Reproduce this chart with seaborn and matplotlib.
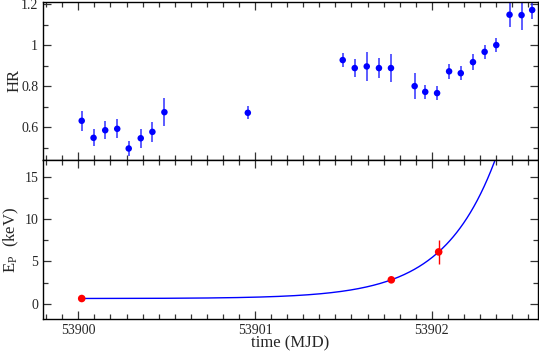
import numpy as np
import pandas as pd
import matplotlib
matplotlib.use("Agg")
import matplotlib.pyplot as plt
import seaborn as sns
from matplotlib.ticker import MultipleLocator

# hardness ratio light curve
hr_time = [53900.019, 53900.086, 53900.152, 53900.220, 53900.285, 53900.353, 53900.419, 53900.487,
           53900.959, 53901.496, 53901.564, 53901.632, 53901.701, 53901.769, 53901.903, 53901.963,
           53902.030, 53902.098, 53902.164, 53902.233, 53902.299, 53902.365, 53902.440, 53902.508,
           53902.568]
hr = [0.631, 0.548, 0.585, 0.592, 0.496, 0.546, 0.577, 0.673,
      0.670, 0.927, 0.888, 0.896, 0.888, 0.888, 0.800, 0.772,
      0.766, 0.872, 0.863, 0.917, 0.967, 1.000, 1.148, 1.146,
      1.171]
hr_err = [0.049, 0.041, 0.044, 0.047, 0.037, 0.046, 0.050, 0.068,
          0.032, 0.033, 0.044, 0.070, 0.048, 0.067, 0.062, 0.033,
          0.034, 0.035, 0.033, 0.039, 0.033, 0.036, 0.059, 0.073,
          0.045]

# peak energy
ep_time = [53900.019, 53901.771, 53902.039]
ep = [0.62, 2.83, 6.13]
ep_err = [0.15, 0.2, 1.45]

# exponential fit  Ep = c + a*exp(b*(t-53900))
fit_c, fit_a, fit_b = 0.62, 0.00527, 3.41

sns.set_style("ticks")
plt.rcParams['font.family'] = ['Liberation Serif', 'DejaVu Serif']
plt.rcParams['mathtext.fontset'] = 'stix'

fig = plt.figure(figsize=(5.39, 3.51), dpi=100)
ax1 = fig.add_axes([0.0798, 0.5442, 0.918, 0.4501])
ax2 = fig.add_axes([0.0798, 0.0912, 0.918, 0.4530], sharex=ax1)

df_hr = pd.DataFrame({"t": hr_time, "hr": hr, "err": hr_err})
ax1.errorbar(df_hr.t, df_hr.hr, yerr=df_hr.err, fmt="none", ecolor="#3030ff", elinewidth=1.1)
sns.scatterplot(data=df_hr, x="t", y="hr", ax=ax1, color="#0000ff", s=22, edgecolor="none", zorder=3)

df_ep = pd.DataFrame({"t": ep_time, "ep": ep, "err": ep_err})
tt = np.linspace(ep_time[0], 53902.6, 400)
df_fit = pd.DataFrame({"t": tt, "f": fit_c + fit_a * np.exp(fit_b * (tt - 53900))})
sns.lineplot(data=df_fit, x="t", y="f", ax=ax2, color="#0000ff", lw=1, zorder=2)
ax2.errorbar(df_ep.t, df_ep.ep, yerr=df_ep.err, fmt="none", ecolor="#ff0000", elinewidth=1)
sns.scatterplot(data=df_ep, x="t", y="ep", ax=ax2, color="#ff0000", s=30, edgecolor="none", zorder=3)

ax1.set_xlim(53899.80, 53902.60)
ax1.set_ylim(0.44, 1.21)
ax2.set_ylim(-1.8, 17)

ax1.yaxis.set_minor_locator(MultipleLocator(0.1))
ax1.set_yticks([0.6, 0.8, 1.0, 1.2])
ax1.set_yticklabels(["0.6", "0.8", "1", "1.2"])
ax2.yaxis.set_major_locator(MultipleLocator(5))
ax2.yaxis.set_minor_locator(MultipleLocator(2.5))
ax2.xaxis.set_major_locator(MultipleLocator(1))
ax2.xaxis.set_minor_locator(MultipleLocator(1 / 11))
ax2.xaxis.set_major_formatter(plt.FuncFormatter(lambda v, p: "%d" % round(v)))

for ax in (ax1, ax2):
    for s in ax.spines.values():
        s.set_visible(True)
        s.set_linewidth(1)
        s.set_color("black")
    ax.tick_params(which="both", direction="in", top=True, right=True, labelsize=10, width=0.9, color="#333333")
    ax.tick_params(which="major", length=6)
    ax.tick_params(which="minor", length=3.5)
ax1.tick_params(labelbottom=False)

ax1.set_xlabel("")
ax1.set_ylabel("HR", fontsize=12, labelpad=-1)
ax2.set_ylabel(r"E$_\mathregular{P}$  (keV)", fontsize=12, labelpad=2)
ax2.set_xlabel("time (MJD)", fontsize=12, labelpad=-1)

fig.savefig("out.png", dpi=100)
